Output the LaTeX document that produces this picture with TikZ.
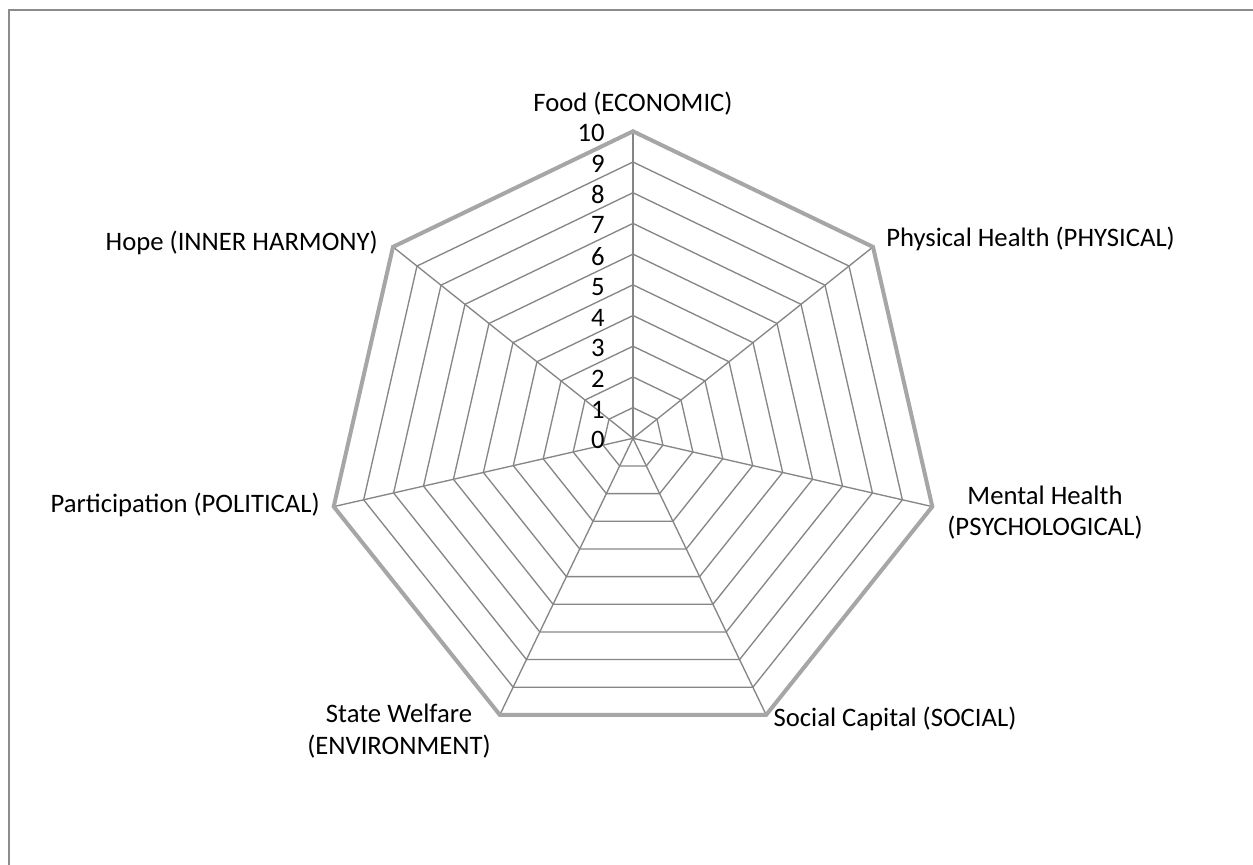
\documentclass[tikz,border=0pt]{standalone}
\usepackage{fontspec}
\setmainfont{Carlito}
\usetikzlibrary{calc}
\definecolor{gridgray}{HTML}{868686}
\definecolor{outergray}{HTML}{A6A6A6}
\definecolor{framegray}{HTML}{8C8C8C}
\begin{document}
\begin{tikzpicture}[x=0.75pt,y=-0.75pt,
  lbl/.style={font=\fontsize{20}{23.6}\selectfont, inner sep=0pt, text=black},
  ring/.style={draw=gridgray, line width=1pt, line join=miter},
  outer/.style={draw=outergray, line width=3pt, line join=miter},
  framestyle/.style={draw=framegray, line width=1.2pt}]
\useasboundingbox (0,0) rectangle (1253,864);
\fill[white] (0,0) rectangle (1253,864);
\draw[framestyle] (9,880) -- (9,10) -- (1270,10);
\coordinate (c) at (633,438.3);
\foreach \k in {0,...,6} \path (c) ++ ({\k*360/7-90}:307) coordinate (v\k);
% inner rings
\foreach \r in {1,...,9}
  \draw[ring] ($(c)!\r/10!(v0)$) \foreach \k in {1,...,6}{ -- ($(c)!\r/10!(v\k)$)} -- cycle;
% spokes
\foreach \k in {0,...,6} \draw[ring] (c) -- (v\k);
% outer ring
\draw[outer] (v0) -- (v1) -- (v2) -- (v3) -- (v4) -- (v5) -- (v6) -- cycle;
% scale numbers
\foreach \n in {0,...,10}
  \node[lbl, anchor=east] (n\n) at (605, {438.3-\n*30.7+2}) {\n};
% axis labels
\node[lbl, anchor=base] (food) at (633,111.7) {Food (ECONOMIC)};
\node[lbl, anchor=base west] (phys) at (886,246.7) {Physical Health (PHYSICAL)};
\node[lbl, align=center] (ment) at (1045,512.7) {Mental Health\\(PSYCHOLOGICAL)};
\node[lbl, anchor=base west] (soc) at (773.3,726.7) {Social Capital (SOCIAL)};
\node[lbl, align=center] (state) at (399,731) {State Welfare\\(ENVIRONMENT)};
\node[lbl, anchor=base east] (part) at (320,512) {Participation (POLITICAL)};
\node[lbl, anchor=base east] (hope) at (378,250) {Hope (INNER HARMONY)};
\end{tikzpicture}
\end{document}
